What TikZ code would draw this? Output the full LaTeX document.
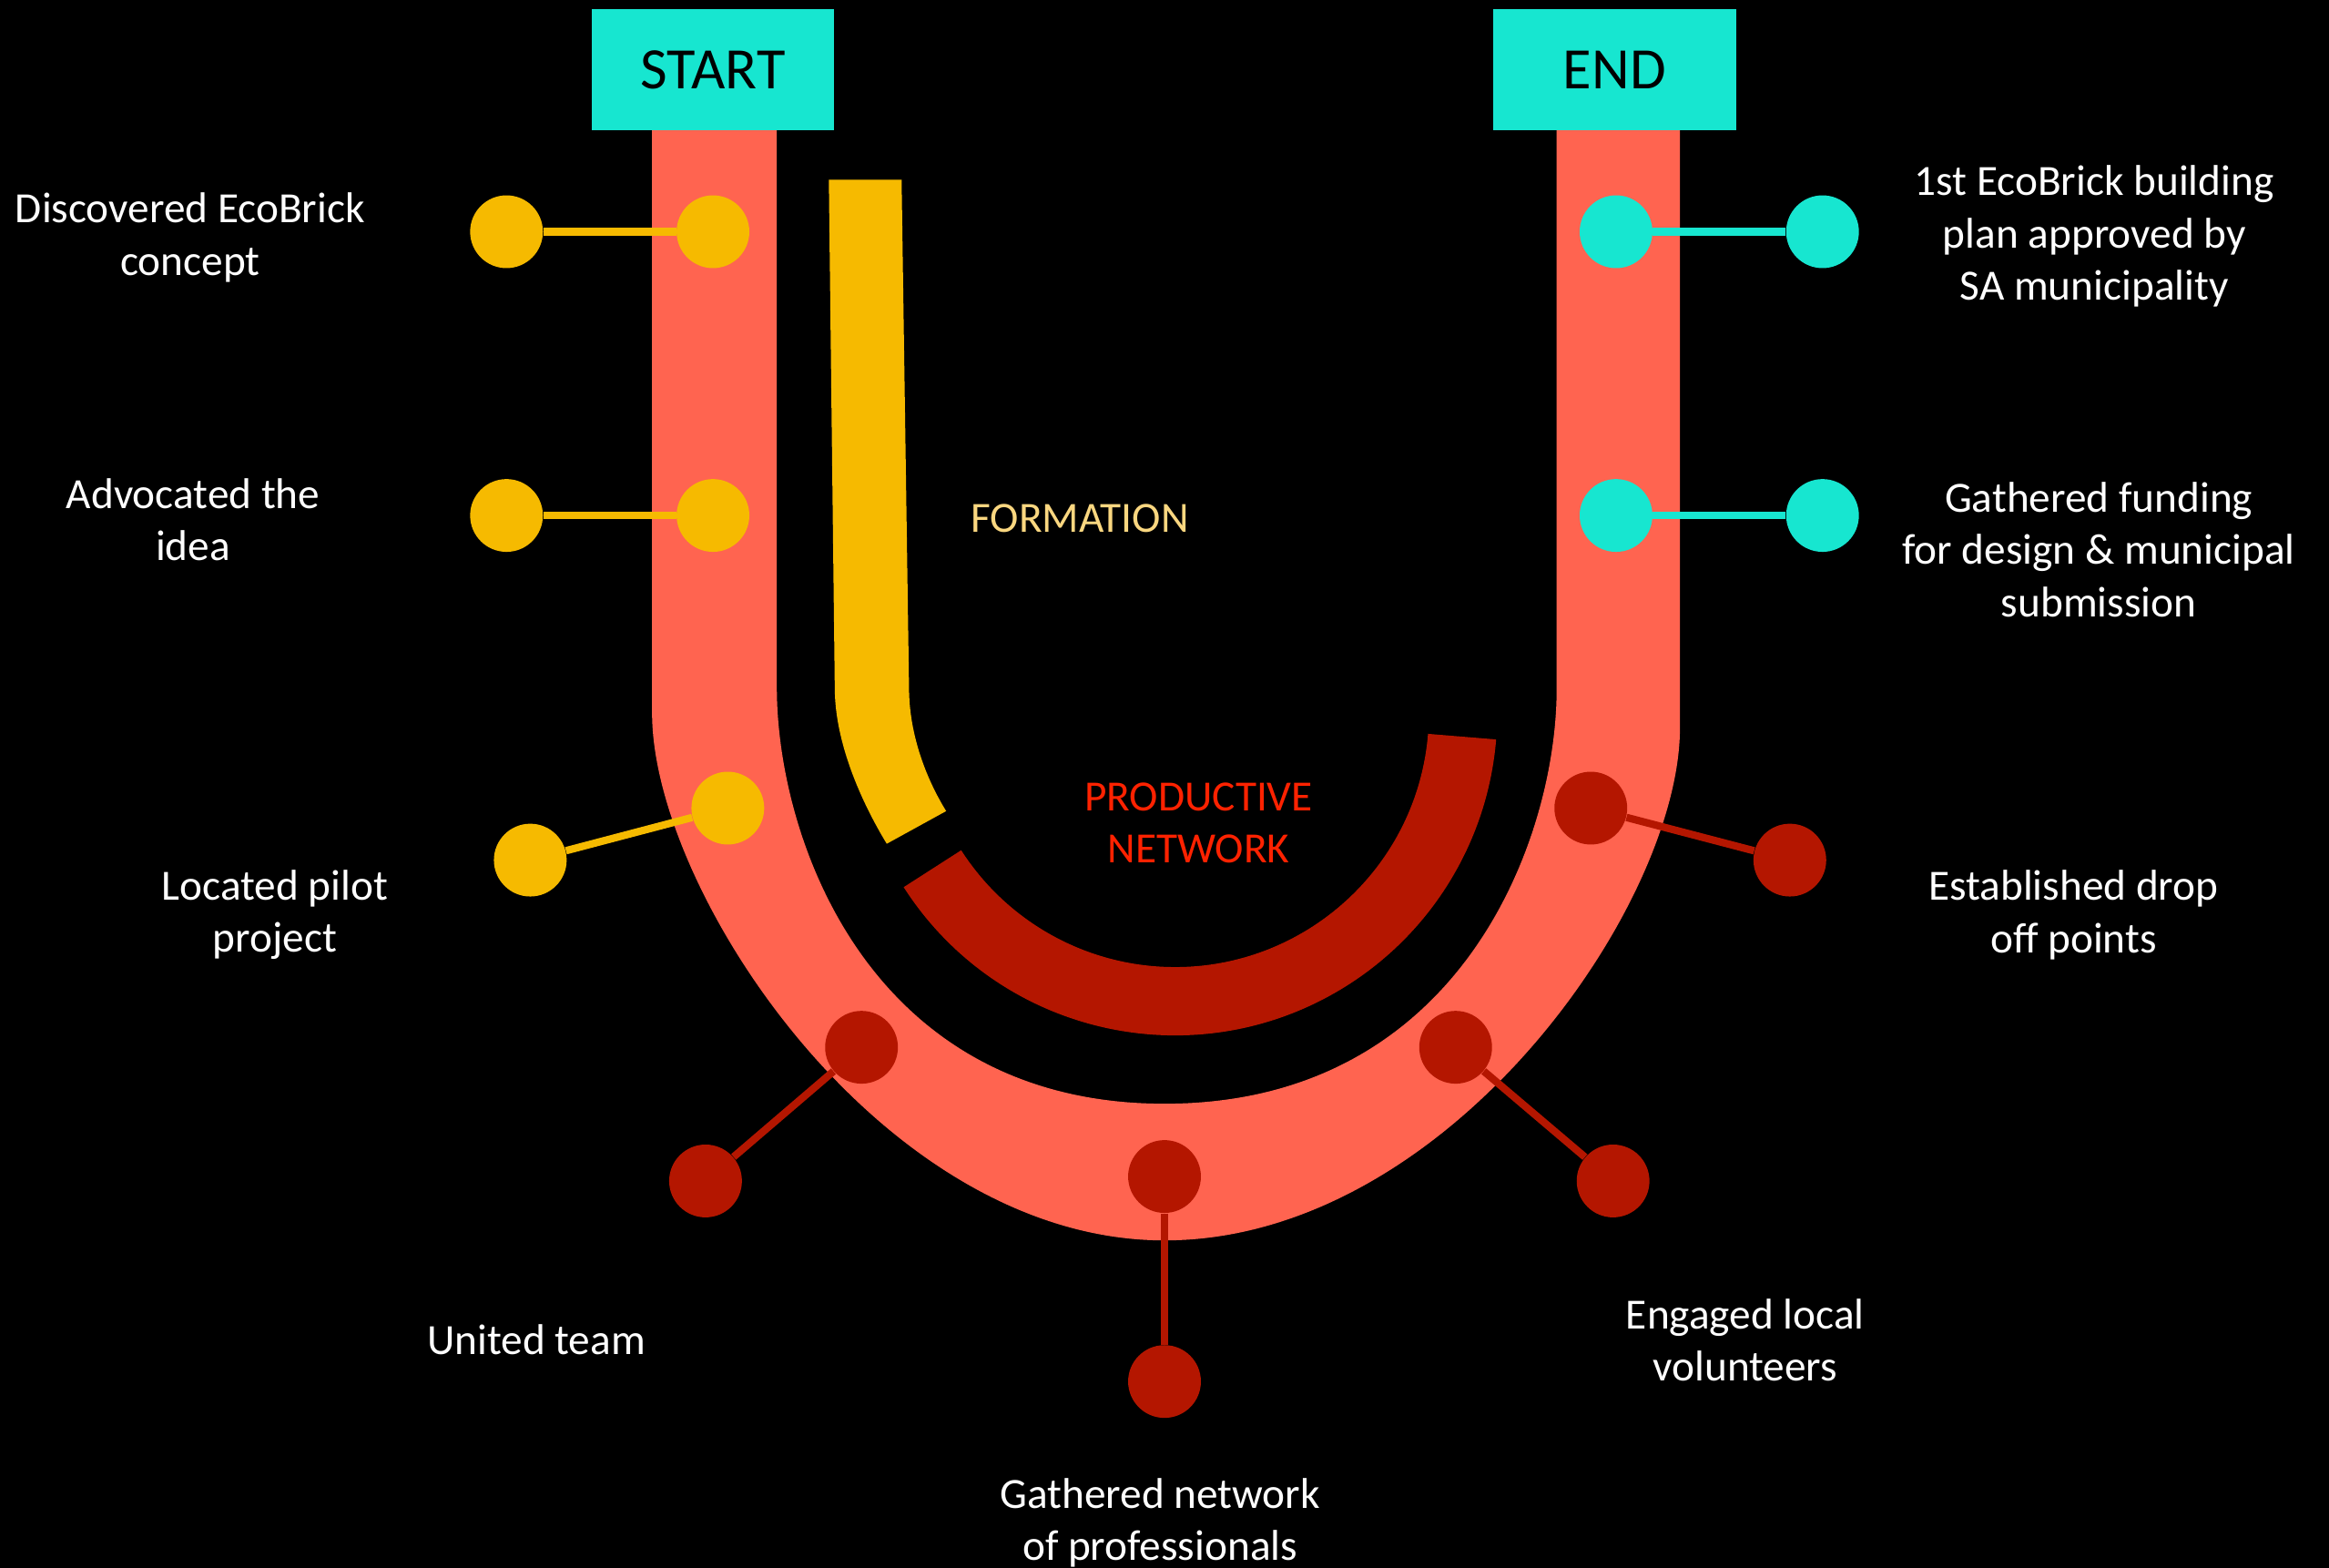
\documentclass[tikz,border=0pt]{standalone}
\usepackage{fontspec}
\setmainfont{Carlito}
\usepackage{tikz}
\definecolor{turq}{RGB}{23,230,208}
\definecolor{salmon}{RGB}{255,100,80}
\definecolor{amber}{RGB}{246,186,0}
\definecolor{brick}{RGB}{180,22,0}
\definecolor{paleamber}{RGB}{250,215,128}
\definecolor{signal}{RGB}{255,34,0}

\begin{document}
\begin{tikzpicture}[x=0.02cm, y=-0.02cm,
	bead/.style={circle, inner sep=0pt, minimum size=0.98cm},
	link/.style={line width=0.1cm},
	caption/.style={text=white, align=center, font=\fontsize{16.5}{20}\selectfont},
	endbox/.style={fill=turq, minimum width=3.27cm, minimum height=1.63cm, inner sep=0pt, font=\fontsize{22.5}{27}\selectfont}]
	    \useasboundingbox (0,0) rectangle (1568,1055);
	    \fill[black] (-5,-5) rectangle (1573,1060);
	    \fill[salmon] (439,87) -- (439,480) .. controls (439,600) and (594,835) .. (784,835) .. controls (974,835) and (1131,610) .. (1131,490) -- (1131,87) -- (1048,87) -- (1048,464) .. controls (1048,564) and (984,743) .. (784,743) .. controls (584,743) and (523,563) .. (523,463) -- (523,87) -- cycle;
	    \fill[amber] (558,121) -- (607,121) -- (612,463) .. controls (612,495) and (624,525) .. (637,546) -- (597,568) .. controls (580,540) and (562,500) .. (562,463) -- cycle;
	    \fill[brick] ([shift={(147.3:217)}]791,480) arc[start angle=147.3, end angle=4.7, radius=217] -- ([shift={(4.7:171)}]791,480) arc[start angle=4.7, end angle=147.3, radius=171] -- cycle;
	    \node[endbox] (start) at (480,47) {START};
	    \node[endbox] (finish) at (1087,47) {END};
	    \node[bead, fill=amber] (discA) at (480,156) {};
	    \node[bead, fill=amber] (discB) at (341,156) {};
	    \node[bead, fill=amber] (advA) at (480,347) {};
	    \node[bead, fill=amber] (advB) at (341,347) {};
	    \node[bead, fill=amber] (pilotA) at (490,544) {};
	    \node[bead, fill=amber] (pilotB) at (357,579) {};
	    \node[bead, fill=turq] (planA) at (1088,156) {};
	    \node[bead, fill=turq] (planB) at (1227,156) {};
	    \node[bead, fill=turq] (fundA) at (1088,347) {};
	    \node[bead, fill=turq] (fundB) at (1227,347) {};
	    \node[bead, fill=brick] (dropA) at (1071,544) {};
	    \node[bead, fill=brick] (dropB) at (1205,579) {};
	    \node[bead, fill=brick] (teamA) at (580,705) {};
	    \node[bead, fill=brick] (teamB) at (475,795) {};
	    \node[bead, fill=brick] (proA) at (784,792) {};
	    \node[bead, fill=brick] (proB) at (784,930) {};
	    \node[bead, fill=brick] (volA) at (980,705) {};
	    \node[bead, fill=brick] (volB) at (1086,795) {};
	    \draw[link, amber] (discA) -- (discB);
	    \draw[link, amber] (advA) -- (advB);
	    \draw[link, amber] (pilotA) -- (pilotB);
	    \draw[link, turq] (planA) -- (planB);
	    \draw[link, turq] (fundA) -- (fundB);
	    \draw[link, brick] (dropA) -- (dropB);
	    \draw[link, brick] (teamA) -- (teamB);
	    \draw[link, brick] (proA) -- (proB);
	    \draw[link, brick] (volA) -- (volB);
	    \node[caption, text=paleamber] (formation) at (727,349) {FORMATION};
	    \node[caption, text=signal] (network) at (807,554) {PRODUCTIVE\\NETWORK};
	    \node[caption] (discovered) at (128,160) {Discovered EcoBrick\\concept};
	    \node[caption] (advocated) at (130,350) {Advocated the\\idea};
	    \node[caption] (located) at (185,616) {Located pilot\\project};
	    \node[caption] (united) at (361,902) {United team};
	    \node[caption] (professionals) at (781,1025) {Gathered network\\of professionals};
	    \node[caption] (volunteers) at (1175,902) {Engaged local\\volunteers};
	    \node[caption] (dropoff) at (1396,616) {Established drop\\off points};
	    \node[caption] (funding) at (1413,370) {Gathered funding\\for design \& municipal\\submission};
	    \node[caption] (approved) at (1410,159) {1st EcoBrick building\\plan approved by\\SA municipality};
\end{tikzpicture}
\end{document}
